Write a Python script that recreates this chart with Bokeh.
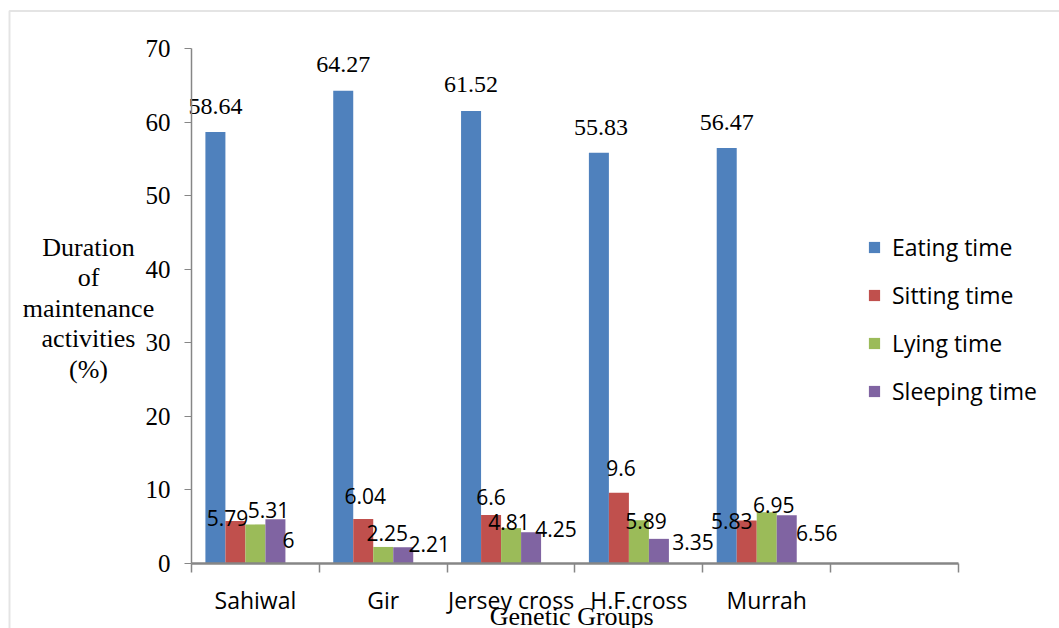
from bokeh.plotting import figure
from bokeh.models import (ColumnDataSource, FixedTicker, Range1d, Legend, LegendItem,
                          Label, BoxAnnotation)
from bokeh.core.properties import value
from bokeh.embed import file_html
from bokeh.resources import INLINE

# ---------------- data ----------------
groups = ["Sahiwal", "Gir", "Jersey cross", "H.F.cross", "Murrah"]
x_tick_labels = ["Sahiwal", "Gir", "Jersey cross", "H.F.cross", "Murrah", ""]
eating = [58.64, 64.27, 61.52, 55.83, 56.47]
sitting = [5.79, 6.04, 6.6, 9.6, 5.83]
lying = [5.31, 2.25, 4.81, 5.89, 6.95]
sleeping = [6, 2.21, 4.25, 3.35, 6.56]
series_names = ["Eating time", "Sitting time", "Lying time", "Sleeping time"]
y_ticks = [0, 10, 20, 30, 40, 50, 60, 70]
y_title_lines = ["Duration", "of", "maintenance", "activities", "(%)"]
x_title = "Genetic  Groups"

# ---------------- layout / styles ----------------
W, H = 1059, 628
X0_PX, Y0_PX = 191, 563          # pixel position of the axes origin
PX_PER_CAT = 127.83              # pixels per category along x
PX_PER_UNIT = 7.357              # pixels per percent along y


def dx(px):      # page x pixel -> data x
    return (px - X0_PX) / PX_PER_CAT


def dy(px):      # page y pixel -> data y
    return (Y0_PX - px) / PX_PER_UNIT


colors = ["#4F81BD", "#C0504D", "#9BBB59", "#8064A2"]
axis_gray = "#868686"
slot = 0.1565            # bar width as a fraction of a category (5 slots, last empty)
n_cat = len(x_tick_labels)
# label offsets in pixels (right, up) relative to the bar's top centre
label_dx = [[0, 0, 0, 2, 0],
            [-8, 2, 0, 2, -15],
            [13, 4, -2, 7, 7],
            [13, 26, 25, 34, 30]]
label_dy = [[26, 26, 26, 25, 26],
            [3, 23, 18, 25, 0],
            [14, 14, 6, -1, 7],
            [-21, 3, 3, -3, -18]]

p = figure(width=W, height=H, output_backend="svg", toolbar_location=None,
           x_range=Range1d(dx(0), dx(W)), y_range=Range1d(dy(H), dy(0)),
           min_border=0)
p.outline_line_color = None
p.xgrid.visible = False
p.ygrid.visible = False
p.background_fill_color = "white"
p.border_fill_color = "white"

all_series = [eating, sitting, lying, sleeping]
renderers = []
for j, vals in enumerate(all_series):
    xs = [i + 0.5 + (j - 2) * slot for i in range(len(groups))]
    src = ColumnDataSource(dict(
        x=xs, top=vals,
        txt=[("%g" % v) for v in vals],
        dx=label_dx[j], dy=[-d for d in label_dy[j]]))
    r = p.vbar(x="x", top="top", width=slot, bottom=0, source=src,
               fill_color=colors[j], line_color=None)
    renderers.append(r)
    if j == 0:
        font, size = "Liberation Serif", "24px"
    else:
        font, size = "Open Sans", "21px"
    p.text(x="x", y="top", text="txt", x_offset="dx", y_offset="dy", source=src,
           text_font=value(font), text_font_size=size, text_color="black",
           text_align="center", text_baseline="middle")

# y axis (drawn at x = 0 inside the full-canvas frame)
ya = p.yaxis[0]
ya.fixed_location = 0
ya.bounds = (0, 70)
ya.ticker = FixedTicker(ticks=y_ticks)
ya.major_label_text_font = "Liberation Serif"
ya.major_label_text_font_size = "25px"
ya.major_label_text_color = "black"
ya.major_tick_out = 7
ya.major_tick_in = 0
ya.minor_tick_line_color = None
ya.axis_line_color = axis_gray
ya.axis_line_width = 1.5
ya.major_tick_line_color = axis_gray
ya.major_label_standoff = 14

# x axis (drawn at y = 0)
xa = p.xaxis[0]
xa.fixed_location = 0
xa.bounds = (0, n_cat)
centers = [i + 0.5 for i in range(n_cat)]
xa.ticker = FixedTicker(ticks=centers, minor_ticks=list(range(n_cat + 1)))
xa.major_label_overrides = {c: lab for c, lab in zip(centers, x_tick_labels)}
xa.major_label_text_font = "Open Sans"
xa.major_label_text_font_size = "23px"
xa.major_label_text_color = "black"
xa.major_tick_line_color = None
xa.major_tick_out = 0
xa.major_tick_in = 0
xa.minor_tick_out = 9
xa.minor_tick_in = 0
xa.minor_tick_line_color = axis_gray
xa.minor_tick_line_width = 1.5
xa.axis_line_color = axis_gray
xa.axis_line_width = 2.5
xa.major_label_standoff = 11

# y axis title: centred lines to the left of the axis
for k, line in enumerate(y_title_lines):
    p.add_layout(Label(x=dx(88), y=dy(247 + k * 30.4), text=line,
                       text_font="Liberation Serif", text_font_size="26px",
                       text_color="black", text_align="center",
                       text_baseline="alphabetic"))

# x axis title
p.add_layout(Label(x=n_cat / 2, y=dy(616), text=x_title, text_font="Liberation Serif",
                   text_font_size="26px", text_color="black", text_align="center",
                   text_baseline="alphabetic"))

# legend
legend = Legend(items=[LegendItem(label=n, renderers=[r]) for n, r in zip(series_names, renderers)],
                location=(867, 221), glyph_width=14, glyph_height=14,
                label_text_font="Open Sans", label_text_font_size="23px",
                label_text_color="black", label_standoff=11, label_height=30,
                spacing=16, padding=0, margin=0, border_line_color=None,
                background_fill_alpha=0)
p.add_layout(legend)

# chart-area border (runs off the right and bottom edges as in the original)
p.add_layout(BoxAnnotation(left=dx(9), right=dx(W + 50), top=dy(10.5), bottom=dy(H + 50),
                           fill_alpha=0, line_color="#A6A6A6", line_width=2))

open("out.html", "w").write(file_html(p, INLINE))
